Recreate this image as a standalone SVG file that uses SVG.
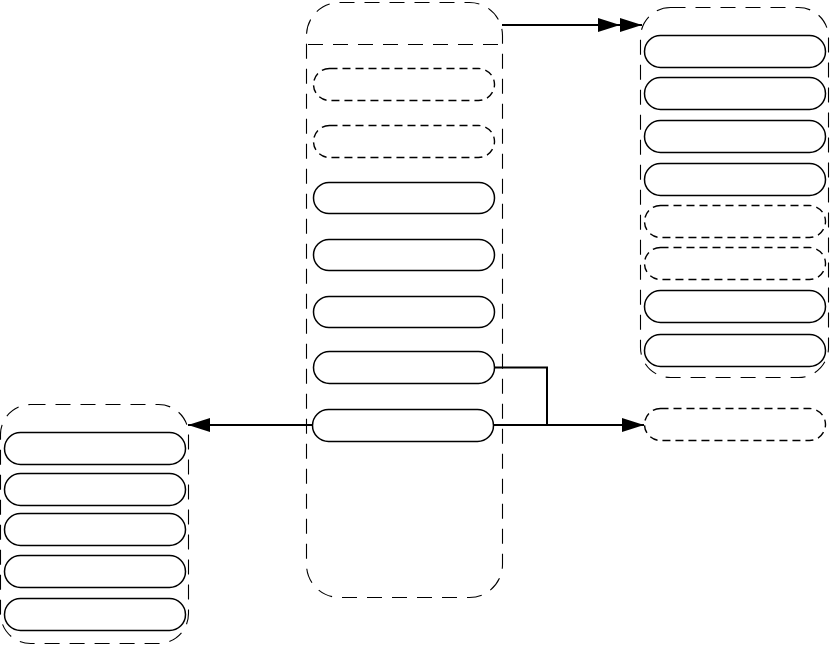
<svg xmlns="http://www.w3.org/2000/svg" width="830" height="645" viewBox="0 0 830 645">
<style>
.cont{fill:none;stroke:#000;stroke-width:1.1;stroke-dasharray:15,10}
.pill{fill:#fff;stroke:#000;stroke-width:1.5}
.dpill{fill:#fff;stroke:#000;stroke-width:1.4;stroke-dasharray:8,5}
.conn{fill:none;stroke:#000;stroke-width:2}
</style>
<defs>
<marker id="ah" viewBox="0 0 22 14" refX="22" refY="7" markerWidth="22" markerHeight="14" markerUnits="userSpaceOnUse" orient="auto">
<path d="M0,0 L22,7 L0,14 Z" fill="#000"/>
</marker>
</defs>
<rect width="830" height="645" fill="#fff"/>
<g id="center">
<rect class="cont" x="306.5" y="2.5" width="196" height="595" rx="33"/>
<line class="cont" x1="308" y1="44.5" x2="501" y2="44.5"/>
<g id="c1"><rect class="dpill" x="313.5" y="68.5" width="181" height="32" rx="16"/></g>
<g id="c2"><rect class="dpill" x="313.5" y="125.5" width="181" height="32" rx="16"/></g>
<g id="c3"><rect class="pill" x="313.5" y="182.5" width="181" height="31" rx="15.5"/></g>
<g id="c4"><rect class="pill" x="313.5" y="239.5" width="181" height="31" rx="15.5"/></g>
<g id="c5"><rect class="pill" x="313.5" y="296.5" width="181" height="31" rx="15.5"/></g>
<g id="c6"><rect class="pill" x="313.5" y="351.5" width="181" height="32" rx="16"/></g>
<g id="c7"><rect class="pill" x="312.5" y="409.5" width="181" height="32" rx="16"/></g>
</g>
<g id="right">
<rect class="cont" x="640.5" y="7.5" width="188" height="370" rx="30"/>
<g id="r1"><rect class="pill" x="644.5" y="35.5" width="181" height="32" rx="16"/></g>
<g id="r2"><rect class="pill" x="644.5" y="77.5" width="181" height="32" rx="16"/></g>
<g id="r3"><rect class="pill" x="644.5" y="120.5" width="181" height="32" rx="16"/></g>
<g id="r4"><rect class="pill" x="644.5" y="163.5" width="181" height="32" rx="16"/></g>
<g id="r5"><rect class="dpill" x="644.5" y="205.5" width="181" height="32" rx="16"/></g>
<g id="r6"><rect class="dpill" x="644.5" y="247.5" width="181" height="32" rx="16"/></g>
<g id="r7"><rect class="pill" x="644.5" y="290.5" width="181" height="32" rx="16"/></g>
<g id="r8"><rect class="pill" x="644.5" y="334.5" width="181" height="32" rx="16"/></g>
</g>
<g id="lone"><rect class="dpill" x="644.5" y="408.5" width="181" height="32" rx="16"/></g>
<g id="left">
<rect class="cont" x="0.5" y="404.5" width="188" height="239" rx="30"/>
<g id="l1"><rect class="pill" x="4.5" y="432.5" width="181" height="32" rx="16"/></g>
<g id="l2"><rect class="pill" x="4.5" y="473.5" width="181" height="32" rx="16"/></g>
<g id="l3"><rect class="pill" x="4.5" y="513.5" width="181" height="32" rx="16"/></g>
<g id="l4"><rect class="pill" x="4.5" y="555.5" width="181" height="32" rx="16"/></g>
<g id="l5"><rect class="pill" x="4.5" y="598.5" width="181" height="32" rx="16"/></g>
</g>
<g id="connectors">
<polyline class="conn" points="502,25 620,25 642,25" marker-mid="url(#ah)" marker-end="url(#ah)"/>
<polyline class="conn" points="494.5,367.5 547,367.5 547,425"/>
<line class="conn" x1="493.5" y1="425" x2="644" y2="425" marker-end="url(#ah)"/>
<line class="conn" x1="312.5" y1="425" x2="188" y2="425" marker-end="url(#ah)"/>
</g>
</svg>
